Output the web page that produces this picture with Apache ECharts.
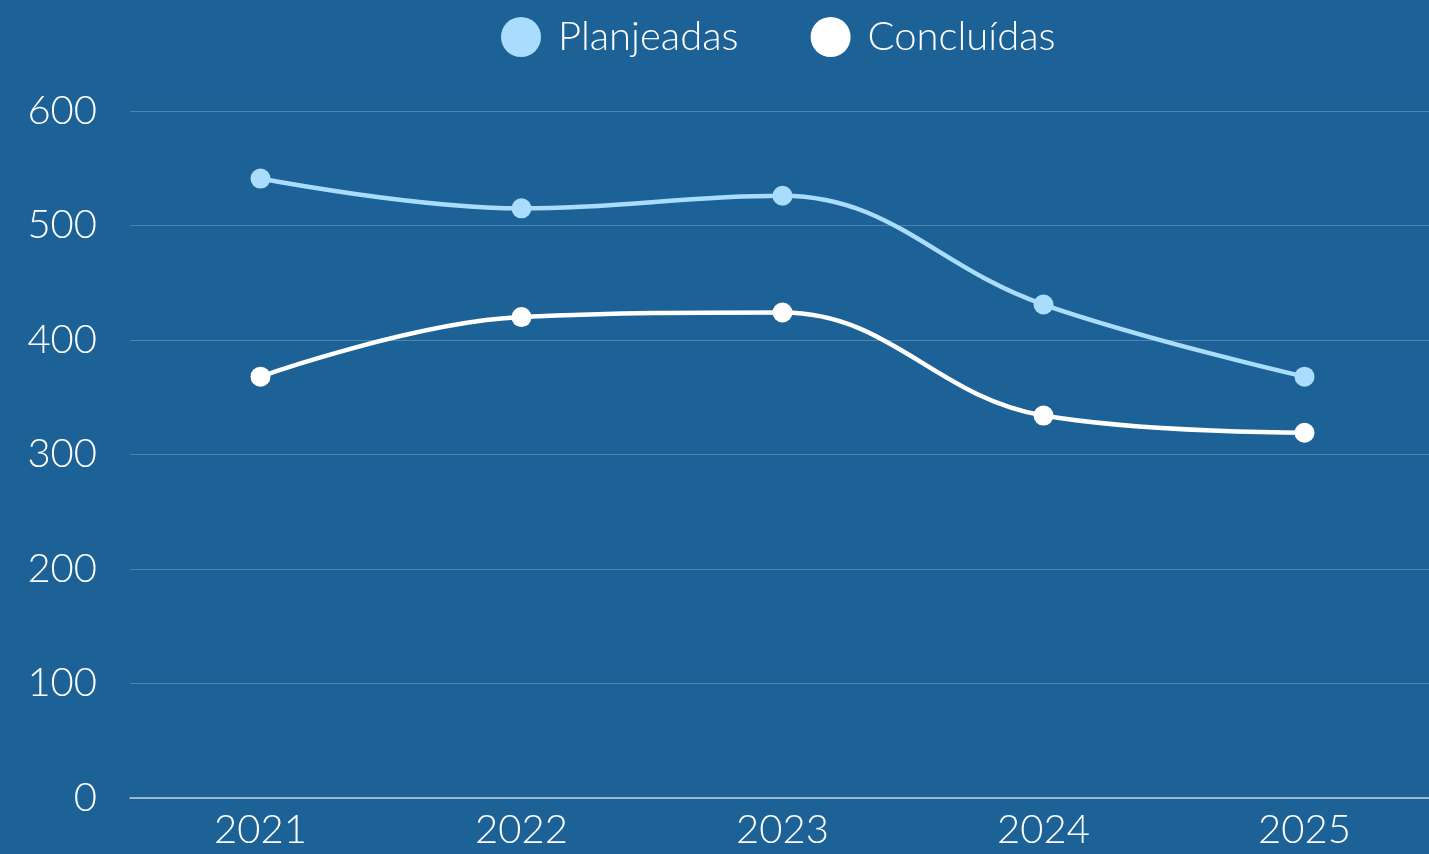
<!DOCTYPE html>
<html><head><meta charset="utf-8">
<script src="https://cdn.jsdelivr.net/npm/echarts@6/dist/echarts.min.js"></script>
<style>html,body{margin:0;padding:0;background:#1d6296;}#c{width:1429px;height:854px;}</style>
</head><body><div id="c"></div>
<script>
const categories = ['2021','2022','2023','2024','2025'];
const planejadas = [541, 515, 526, 431, 368];
const concluidas = [368, 420, 424, 334, 319];
const seriesNames = ['Planjeadas', 'Concluídas'];

const FONT = 'Lato';
const chart = echarts.init(document.getElementById('c'));
chart.setOption({
  backgroundColor: '#1d6296',
  animation: false,
  legend: {
    top: 12, left: 496, itemGap: 72, icon: 'circle', itemWidth: 40, itemHeight: 40,
    textStyle: { color: '#ffffff', fontSize: 40, fontFamily: FONT, fontWeight: 300, padding: [0,0,0,12] }
  },
  grid: { left: 130, top: 111, right: -6, height: 687, outerBoundsMode: 'none', containLabel: false },
  xAxis: {
    type: 'category', data: categories, boundaryGap: true,
    axisLine: { lineStyle: { color: '#c3ccd6', width: 1.5 } },
    axisTick: { show: false },
    axisLabel: { color: '#ffffff', fontSize: 40, fontFamily: FONT, fontWeight: 300, margin: 12 }
  },
  yAxis: {
    type: 'value', min: 0, max: 600, interval: 100,
    axisLine: { show: false }, axisTick: { show: false },
    splitLine: { lineStyle: { color: 'rgba(255,255,255,0.22)', width: 1 } },
    axisLabel: { color: '#ffffff', fontSize: 40, fontFamily: FONT, fontWeight: 300, margin: 33 }
  },
  series: [
    { name: seriesNames[0], type: 'line', data: planejadas, smooth: 0.4, symbol: 'circle', symbolSize: 20,
      lineStyle: { color: '#a9dcfd', width: 4.5 }, itemStyle: { color: '#a9dcfd' } },
    { name: seriesNames[1], type: 'line', data: concluidas, smooth: 0.4, symbol: 'circle', symbolSize: 20,
      lineStyle: { color: '#ffffff', width: 4.5 }, itemStyle: { color: '#ffffff' } }
  ]
});
</script></body></html>
